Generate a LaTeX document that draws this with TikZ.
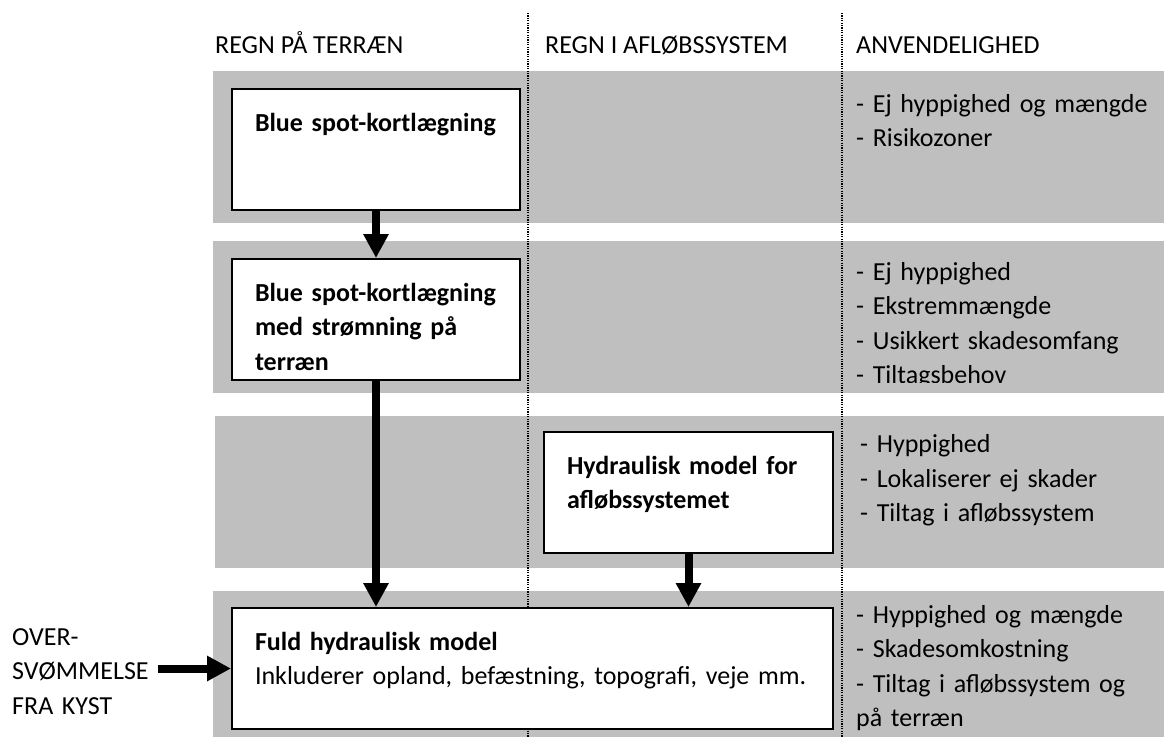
\documentclass[tikz,border=0pt]{standalone}
\usepackage{fontspec}
\setmainfont{Carlito}
\usepackage{tikz}
\usetikzlibrary{arrows.meta,positioning}
\definecolor{bandgray}{RGB}{191,191,191}
\tikzstyle{modelbox} = [rectangle, draw=black, line width=2pt, fill=white, anchor=north west, align=left, inner xsep=23pt, inner ysep=22pt, text height=20pt, text depth=57pt, font=\bfseries]
\tikzstyle{arrow} = [line width=8pt, -{Triangle[width=24pt,length=24pt]}]
\tikzstyle{head} = [anchor=base west, inner sep=0pt]
\tikzstyle{note} = [anchor=base west, inner sep=0pt, align=left, text width=300pt]
\tikzstyle{colsep} = [line width=1.2pt, dash pattern=on 1.2pt off 1.2pt]

\begin{document}
\fontsize{26}{34.5}\selectfont
\begin{tikzpicture}[x=1pt, y=-1pt]
\useasboundingbox (0,0) rectangle (1164,737);
% Bands
\fill[bandgray] (213,71) rectangle (1164,223);
\fill[bandgray] (213,241) rectangle (1164,393);
\fill[bandgray] (215,416) rectangle (1164,568);
\fill[bandgray] (213,591) rectangle (1164,737);
\draw[colsep] (528,13) -- (528,737);
\draw[colsep] (842,13) -- (842,737);

% Headings
\node[head] (terrain) at (215,53) {REGN PÅ TERRÆN};
\node[head] (sewer) at (545,53) {REGN I AFLØBSSYSTEM};
\node[head] (usage) at (856,53) {ANVENDELIGHED};

% Models
\node[modelbox, text width=242pt] (blue1) at (231,88) {Blue spot-kortlægning};
\node[modelbox, text width=242pt] (blue2) at (231,258) {Blue spot-kortlægning\\med strømning på\\terræn};
\node[modelbox, text width=243pt] (sewermodel) at (543,431) {Hydraulisk model for\\afløbssystemet};
\node[modelbox, text width=555pt] (fullmodel) at (231,607) {Fuld hydraulisk model\\\mdseries Inkluderer opland, befæstning, topografi, veje mm.};
\node[note, text width=140pt] (flood) at (12,645) {OVER-\\SVØMMELSE\\FRA KYST};

% Use
\node[note] (use1) at (856,112) {- Ej hyppighed og mængde\\- Risikozoner};
\begin{scope}
\clip (213,241) rectangle (1164,382);
\node[note] (use2) at (856,280) {- Ej hyppighed\\- Ekstremmængde\\- Usikkert skadesomfang\\- Tiltagsbehov};
\end{scope}
\node[note] (use3) at (860,452.5) {- Hyppighed\\- Lokaliserer ej skader\\- Tiltag i afløbssystem};
\node[note] (use4) at (856,623) {- Hyppighed og mængde\\- Skadesomkostning\\- Tiltag i afløbssystem og\\på terræn};

% Arrows
\draw[arrow] (blue1) -- (blue2);
\draw[arrow] (blue2.south) -- (blue2.south |- fullmodel.north);
\draw[arrow] (sewermodel.south) -- (sewermodel.south |- fullmodel.north);
\draw[arrow] ([xshift=6pt]flood.east |- fullmodel.west) -- (fullmodel.west);
\end{tikzpicture}
\end{document}
